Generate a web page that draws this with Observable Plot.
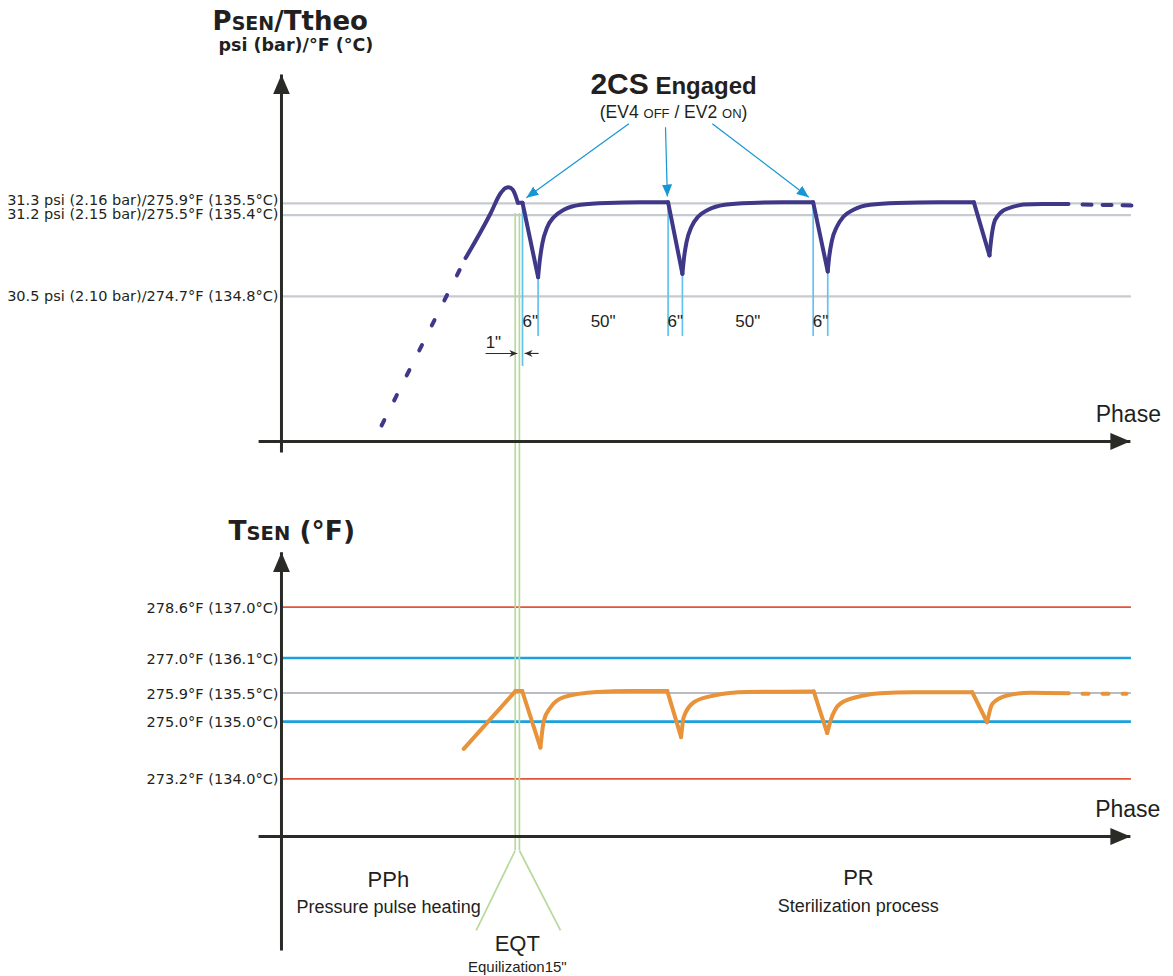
<!DOCTYPE html>
<html>
<head>
<meta charset="utf-8">
<script src="https://cdn.jsdelivr.net/npm/d3@7"></script>
<script src="https://cdn.jsdelivr.net/npm/@observablehq/plot@0.6"></script>
<style>
  html, body { margin: 0; padding: 0; background: #fff; }
  #chart svg { display: block; }
</style>
</head>
<body>
<div id="chart"></div>
<script>
// ---------------- DATA (time in seconds, pressure in psi, temperature in °F) ----------------
// Top panel: sensed pressure / theoretical temperature reference levels
const psenLevels = [31.3, 31.2, 30.5];
const psenLevelLabels = [
  "31.3 psi (2.16 bar)/275.9°F (135.5°C)",
  "31.2 psi (2.15 bar)/275.5°F (135.4°C)",
  "30.5 psi (2.10 bar)/274.7°F (134.8°C)"
];
// dashed approach (heating)
const psenLeadT = [-54.2, -21.9];
const psenLeadV = [29.39, 30.83];
// solid PSEN trace
const psenT = [-21.9, -12.3, -8.5, -6.5, -5.3, -3.8, -2.7, -1.8, 0, 6.0,
  6.5, 7.6, 9.5, 12.0, 15.9, 22.3, 32.6, 45.4, 56.0,
  61.5, 62.0, 63.1, 65.0, 67.5, 71.4, 77.8, 88, 100, 111.8,
  117.4, 117.9, 119.0, 120.9, 123.4, 127.3, 133.7, 144, 160, 173.6,
  179.6, 180.2, 181.3, 183, 185, 188.5, 192.7, 200, 210];
const psenV = [30.83, 31.214, 31.386, 31.433, 31.44, 31.42, 31.369, 31.306, 31.306, 30.666,
  30.781, 30.953, 31.096, 31.182, 31.246, 31.289, 31.305, 31.31, 31.31,
  30.695, 30.81, 30.97, 31.10, 31.185, 31.246, 31.289, 31.305, 31.31, 31.31,
  30.715, 30.83, 30.98, 31.10, 31.185, 31.246, 31.289, 31.305, 31.31, 31.31,
  30.853, 30.98, 31.128, 31.20, 31.24, 31.27, 31.291, 31.295, 31.295];
// corners of the trace (peaks are smooth, drops are sharp)
const psenBreaks = [-21.9, -1.8, 0, 6.0, 56.0, 61.5, 111.8, 117.4, 173.6, 179.6, 210];
// dashed continuation
const psenTailT = [215.4, 234.2];
const psenTailV = [31.291, 31.283];

// 2CS engagement markers (EV4 OFF / EV2 ON) and drop ends
const cycleMarkT = [0, 6.0, 56.0, 61.5, 111.8, 117.4];
const cycleMarkTop = [31.306, 30.666, 31.31, 30.695, 31.31, 30.715];
const durationLabels = ['6"', '50"', '6"', '50"', '6"'];
// equilibration (EQT) boundaries
const eqtT = [-2.8, -1.2];

// Bottom panel: sensed temperature
const tsenLevels = [278.6, 277.0, 275.9, 275.0, 273.2];
const tsenLevelLabels = ["278.6°F (137.0°C)", "277.0°F (136.1°C)", "275.9°F (135.5°C)", "275.0°F (135.0°C)", "273.2°F (134.0°C)"];
const tsenLevelKind = ["limit", "band", "target", "band", "limit"];
const tsenT = [-22.6, -2.7, -0.1, 6.9, 8.2, 10.8, 15.9, 28.7, 41.5, 55.7,
  61.0, 62.0, 65.9, 73.6, 86.4, 112.0,
  117.2, 118.5, 122.3, 131.2, 137.7, 150, 173.0,
  178.7, 180.7, 186.4, 195.4, 210.1];
const tsenV = [274.14, 275.96, 275.96, 274.18, 275.03, 275.45, 275.77, 275.93, 275.96, 275.96,
  274.51, 275.14, 275.61, 275.82, 275.93, 275.95,
  274.64, 275.03, 275.57, 275.82, 275.89, 275.92, 275.92,
  274.98, 275.56, 275.82, 275.91, 275.89];
const tsenBreaks = [-22.6, -2.7, -0.1, 6.9, 55.7, 61.0, 112.0, 117.2, 173.0, 178.7, 210.1];
const tsenTailT = [215.4, 232.3];
const tsenTailV = [275.88, 275.88];

// ---------------- LAYOUT / SCALES ----------------
const W = 1173, H_TOP = 480, H_BOT = 496;
const X_DOMAIN = [-200.77, 250.38];
const T_AXIS = -92.7, T_XSTART = -101.5, T_TIP = 233.8, T_END = 234.2;

const C = {
  purple: "#3f3889", orange: "#e8923a", grid: "#c7cacf", red: "#e2553a", blue: "#1ba1dd",
  sky: "#62c3ee", arrow: "#1696d2", green: "#b7d99c", axis: "#2a2a26", text: "#231f20"
};
const SANS = "'Liberation Sans', Arial, sans-serif";
const TICKF = "'DejaVu Sans', Verdana, sans-serif";
const BOLD = "'DejaVu Sans', Verdana, sans-serif";
const psenLabelNudge = [-3.3, -0.3, 0];

function segments(ts, vs, breaks) {
  const rows = [];
  for (let s = 0; s < breaks.length - 1; s++) {
    ts.forEach((t, i) => {
      if (t >= breaks[s] - 1e-9 && t <= breaks[s + 1] + 1e-9) rows.push({t, v: vs[i], seg: s});
    });
  }
  return rows;
}
const pts = (ts, vs) => ts.map((t, i) => ({t, v: vs[i]}));
const mids = durationLabels.map((_, i) => (cycleMarkT[i] + cycleMarkT[i + 1]) / 2);

// ---------------- TOP PANEL ----------------
const topPlot = Plot.plot({
  width: W, height: H_TOP,
  marginTop: 0, marginRight: 0, marginBottom: 0, marginLeft: 0,
  x: {domain: X_DOMAIN, range: [0, W], axis: null},
  y: {domain: [28.917, 33.046], range: [H_TOP, 0], axis: null},
  style: {fontFamily: SANS, background: "#fff", overflow: "visible"},
  marks: [
    Plot.ruleY(psenLevels, {y: d => d, x1: T_AXIS, x2: T_END, stroke: C.grid, strokeWidth: 2.2}),
    ...psenLevels.map((lv, i) =>
      Plot.text([lv], {x: T_AXIS, y: d => d, text: () => psenLevelLabels[i], textAnchor: "end", dx: -3, dy: psenLabelNudge[i], fontFamily: TICKF, fontSize: 14.5, fill: C.text})),
    // equilibration lines
    Plot.ruleX(eqtT, {x: d => d, y1: 31.214, y2: 28.917, stroke: C.green, strokeWidth: 1.7}),
    // engagement / drop markers
    Plot.ruleX(cycleMarkT, {x: d => d, y1: (d, i) => cycleMarkTop[i], y2: (d, i) => i === 0 ? 29.898 : 30.156, stroke: C.sky, strokeWidth: 1.7}),
    Plot.text(durationLabels, {x: (d, i) => mids[i], y: 30.236, text: d => d, fontSize: 17, lineAnchor: "bottom", fill: C.text}),
    // 1" dimension (link #0)
    Plot.link([{a: -14.2, b: -2.0}, {a: 6.2, b: 0.8}], {x1: "a", x2: "b", y1: 30.01, y2: 30.01, stroke: C.axis, strokeWidth: 1.1, strokeLinecap: "butt"}),
    Plot.text(['1"'], {x: -11.2, y: 30.053, text: d => d, fontSize: 17, lineAnchor: "bottom", fill: C.text}),
    // PSEN trace
    Plot.line(pts(psenLeadT, psenLeadV), {x: "t", y: "v", stroke: C.purple, strokeWidth: 4, strokeDasharray: "6,22"}),
    Plot.line(segments(psenT, psenV, psenBreaks), {x: "t", y: "v", z: "seg", curve: "monotone-x", stroke: C.purple, strokeWidth: 4}),
    Plot.line(pts(psenTailT, psenTailV), {x: "t", y: "v", stroke: C.purple, strokeWidth: 4, strokeDasharray: "9,11"}),
    // 2CS annotation (link #1)
    Plot.text(["2CS Engaged"], {x: 58.1, y: 32.246, text: d => d, fontWeight: "bold", fontSize: 30, lineAnchor: "bottom", fill: C.text}),
    Plot.text(["(EV4 OFF / EV2 ON)"], {x: 58.1, y: 32.031, text: d => d, fontSize: 17.5, lineAnchor: "bottom", fill: C.text}),
    Plot.link([
      {t1: 40.9, v1: 31.986, t2: 1.5, v2: 31.349},
      {t1: 55.0, v1: 31.956, t2: 55.7, v2: 31.360},
      {t1: 73.0, v1: 31.986, t2: 110.1, v2: 31.354}
    ], {x1: "t1", y1: "v1", x2: "t2", y2: "v2", stroke: C.arrow, strokeWidth: 1.2, strokeLinecap: "butt"}),
    // axes (link #2)
    Plot.link([{t1: T_AXIS, v1: 29.158, t2: T_AXIS, v2: 32.410}, {t1: T_XSTART, v1: 29.253, t2: T_TIP, v2: 29.253}],
      {x1: "t1", y1: "v1", x2: "t2", y2: "v2", stroke: C.axis, strokeWidth: 3, strokeLinecap: "butt"}),
    Plot.text(["Phase"], {x: 233, y: 29.419, text: d => d, fontSize: 23, lineAnchor: "bottom", fill: C.text}),
    // titles
    Plot.text(["PSEN/Ttheo"], {x: -119.2, y: 32.788, text: d => d, textAnchor: "start", lineAnchor: "bottom", fontFamily: BOLD, fontWeight: "bold", fontSize: 26, fill: C.text}),
    Plot.text(["psi (bar)/°F (°C)"], {x: -116.9, y: 32.610, text: d => d, textAnchor: "start", lineAnchor: "bottom", fontFamily: BOLD, fontWeight: "bold", fontSize: 17.5, fill: C.text})
  ]
});

// ---------------- BOTTOM PANEL ----------------
const levelColor = {limit: C.red, band: C.blue, target: "#b9bcc2"};
const levelWidth = {limit: 1.8, band: 2.6, target: 1.8};
const botPlot = Plot.plot({
  width: W, height: H_BOT,
  marginTop: 0, marginRight: 0, marginBottom: 0, marginLeft: 0,
  x: {domain: X_DOMAIN, range: [0, W], axis: null},
  y: {domain: [266.979, 282.587], range: [H_BOT, 0], axis: null},
  style: {fontFamily: SANS, background: "#fff", overflow: "visible"},
  marks: [
    ...["limit", "band", "target"].map(k =>
      Plot.ruleY(tsenLevels.filter((d, i) => tsenLevelKind[i] === k), {y: d => d, x1: T_AXIS, x2: T_END, stroke: levelColor[k], strokeWidth: levelWidth[k]})),
    Plot.text(tsenLevels, {x: T_AXIS, y: d => d, text: (d, i) => tsenLevelLabels[i], textAnchor: "end", dx: -3, dy: 1, fontFamily: TICKF, fontSize: 14.5, fill: C.text}),
    // equilibration lines (link #0 = split)
    Plot.ruleX(eqtT, {x: d => d, y1: 282.587, y2: 270.944, stroke: C.green, strokeWidth: 1.7}),
    Plot.link([{a: eqtT[0], b: -17.8}, {a: eqtT[1], b: 14.6}], {x1: "a", x2: "b", y1: 270.944, y2: 268.427, stroke: C.green, strokeWidth: 1.7}),
    // TSEN trace
    Plot.line(segments(tsenT, tsenV, tsenBreaks), {x: "t", y: "v", z: "seg", curve: "monotone-x", stroke: C.orange, strokeWidth: 4}),
    Plot.line(pts(tsenTailT, tsenTailV), {x: "t", y: "v", stroke: C.orange, strokeWidth: 4, strokeDasharray: "6,14"}),
    // axes (link #1)
    Plot.link([{t1: T_AXIS, v1: 267.797, t2: T_AXIS, v2: 280.330}, {t1: T_XSTART, v1: 271.384, t2: T_TIP, v2: 271.384}],
      {x1: "t1", y1: "v1", x2: "t2", y2: "v2", stroke: C.axis, strokeWidth: 3, strokeLinecap: "butt"}),
    Plot.text(["Phase"], {x: 232.8, y: 271.992, text: d => d, fontSize: 23, lineAnchor: "bottom", fill: C.text}),
    // phase labels
    Plot.text(["PPh"], {x: -51.6, y: 269.811, text: d => d, fontSize: 22, lineAnchor: "bottom", fill: C.text}),
    Plot.text(["Pressure pulse heating"], {x: -51.5, y: 268.962, text: d => d, fontSize: 18, lineAnchor: "bottom", fill: C.text}),
    Plot.text(["EQT"], {x: -2.0, y: 267.797, text: d => d, fontSize: 22, lineAnchor: "bottom", fill: C.text}),
    Plot.text(['Equilization15"'], {x: -2.0, y: 267.115, text: d => d, fontSize: 15, lineAnchor: "bottom", fill: C.text}),
    Plot.text(["PR"], {x: 129.2, y: 269.843, text: d => d, fontSize: 22, lineAnchor: "bottom", fill: C.text}),
    Plot.text(["Sterilization process"], {x: 129.1, y: 269.004, text: d => d, fontSize: 18, lineAnchor: "bottom", fill: C.text}),
    // title
    Plot.text(["TSEN (°F)"], {x: -113.1, y: 280.72, text: d => d, textAnchor: "start", lineAnchor: "bottom", fontFamily: BOLD, fontWeight: "bold", fontSize: 26.5, fill: C.text})
  ]
});

// ---------------- POST: arrowheads & mixed-size text ----------------
const NS = "http://www.w3.org/2000/svg";
const HEADS = {
  axis: {w: 20, h: 17, d: "M0,0L20,8.5L0,17Z", fill: C.axis},
  cs: {w: 12, h: 10, d: "M0,0L12,5L0,10Z", fill: C.arrow},
  dim: {w: 8, h: 7, d: "M0,0L8,3.5L0,7L2.5,3.5Z", fill: C.axis}
};
function addMarkers(svg, prefix, linkKinds) {
  const defs = document.createElementNS(NS, "defs");
  for (const [k, s] of Object.entries(HEADS)) {
    const m = document.createElementNS(NS, "marker");
    m.setAttribute("id", prefix + k);
    m.setAttribute("viewBox", `0 0 ${s.w} ${s.h}`);
    m.setAttribute("refX", s.w);
    m.setAttribute("refY", s.h / 2);
    m.setAttribute("markerWidth", s.w);
    m.setAttribute("markerHeight", s.h);
    m.setAttribute("markerUnits", "userSpaceOnUse");
    m.setAttribute("orient", "auto");
    const p = document.createElementNS(NS, "path");
    p.setAttribute("d", s.d);
    p.setAttribute("fill", s.fill);
    m.appendChild(p);
    defs.appendChild(m);
  }
  svg.insertBefore(defs, svg.firstChild);
  const groups = svg.querySelectorAll('g[aria-label="link"]');
  groups.forEach((g, gi) => {
    const k = linkKinds[gi];
    if (!k) return;
    g.querySelectorAll("path, line").forEach(el => el.setAttribute("marker-end", `url(#${prefix}${k})`));
  });
}
function richText(svg, full, parts) {
  svg.querySelectorAll("text").forEach(t => {
    if (t.textContent === full && !t.querySelector("tspan")) {
      t.textContent = "";
      for (const [s, size] of parts) {
        const ts = document.createElementNS(NS, "tspan");
        ts.textContent = s;
        ts.setAttribute("font-size", size);
        t.appendChild(ts);
      }
    }
  });
}
addMarkers(topPlot, "t-", ["dim", "cs", "axis"]);
addMarkers(botPlot, "b-", [null, "axis"]);
richText(topPlot, "PSEN/Ttheo", [["P", 26], ["SEN", 19], ["/Ttheo", 26]]);
richText(topPlot, "2CS Engaged", [["2CS", 30], [" Engaged", 24]]);
richText(topPlot, "(EV4 OFF / EV2 ON)", [["(EV4 ", 17.5], ["OFF", 13], [" / EV2 ", 17.5], ["ON", 13], [")", 17.5]]);
richText(botPlot, "TSEN (°F)", [["T", 26.5], ["SEN", 19.5], [" (°F)", 26.5]]);

document.getElementById("chart").append(topPlot, botPlot);
</script>
</body>
</html>
